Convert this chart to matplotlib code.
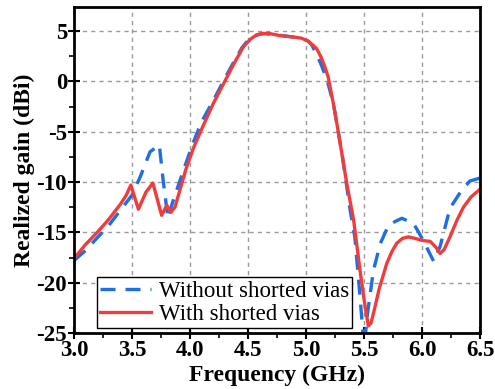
import matplotlib
matplotlib.use('Agg')
import matplotlib.pyplot as plt
from matplotlib.ticker import MultipleLocator, FormatStrFormatter

# Without shorted vias (dashed blue)
f_wo = [3.0, 3.1, 3.195, 3.3, 3.4, 3.5, 3.57, 3.655, 3.735, 3.77, 3.81, 3.85, 3.9, 3.95,
        4.03, 4.1, 4.2, 4.3, 4.38, 4.45, 4.5, 4.55, 4.6, 4.65, 4.72, 4.8, 4.9, 4.96, 5.02,
        5.05, 5.08, 5.12, 5.18, 5.235, 5.31, 5.38, 5.42, 5.465, 5.5, 5.53, 5.58, 5.64,
        5.71, 5.77, 5.825, 5.925, 6.01, 6.1, 6.155, 6.24, 6.33, 6.41, 6.5]
g_wo = [-17.8, -16.8, -15.6, -14.3, -12.8, -11.3, -9.5, -7.0, -6.3, -10.0, -13.6, -12.0, -10.3, -8.6,
        -6.0, -4.0, -1.9, 0.3, 2.0, 3.4, 4.1, 4.5, 4.7, 4.75, 4.65, 4.55, 4.4, 4.3, 4.0,
        3.6, 2.9, 1.95, 0.2, -2.2, -7.2, -12.8, -15.45, -21.4, -26.5, -23.0, -18.8, -16.1,
        -14.3, -13.9, -13.6, -14.1, -15.8, -17.9, -16.4, -12.6, -11.0, -9.9, -9.6]

# With shorted vias (solid red)
f_w = [3.0, 3.1, 3.2, 3.3, 3.4, 3.45, 3.49, 3.555, 3.62, 3.68, 3.755, 3.80, 3.835, 3.87,
       3.92, 3.965, 4.03, 4.115, 4.2, 4.29, 4.38, 4.46, 4.52, 4.57, 4.62, 4.69, 4.78, 4.9,
       4.96, 5.02, 5.06, 5.09, 5.13, 5.16, 5.19, 5.24, 5.28, 5.32, 5.35, 5.41, 5.465, 5.51,
       5.537, 5.56, 5.59, 5.63, 5.695, 5.74, 5.78, 5.83, 5.88, 5.94, 6.0, 6.07, 6.12, 6.155,
       6.19, 6.24, 6.3, 6.356, 6.42, 6.5]
g_w = [-17.6, -16.2, -15.0, -13.7, -12.2, -11.3, -10.3, -12.7, -11.0, -10.1, -13.3, -12.3, -13.0, -12.5,
       -10.5, -8.7, -6.6, -4.35, -2.2, -0.2, 1.8, 3.45, 4.2, 4.6, 4.78, 4.75, 4.55, 4.4,
       4.3, 4.0, 3.6, 3.28, 2.4, 1.5, 0.46, -2.5, -5.2, -8.0, -10.1, -13.8, -18.8, -22.5,
       -24.3, -24.0, -22.6, -20.6, -18.1, -16.9, -16.1, -15.6, -15.45, -15.6, -15.8, -15.9, -16.5, -17.1,
       -16.7, -15.45, -13.8, -12.5, -11.5, -10.7]

plt.rcParams['font.family'] = 'Liberation Serif'
plt.rcParams['font.weight'] = 'bold'
plt.rcParams['axes.unicode_minus'] = False

fig = plt.figure(figsize=(4.95, 3.89), dpi=100)
ax = fig.add_axes([0.1495, 0.144, 0.8205, 0.838])

ax.grid(True, which='major', linestyle=(0, (3, 3)), color='#999999', linewidth=1.0)
ax.plot(f_wo, g_wo, color='#1E6EE6', linewidth=2.4, linestyle=(0, (4.5, 3)),
        label='Without shorted vias')
ax.plot(f_w, g_w, color='#F03C3C', linewidth=2.4, label='With shorted vias')

ax.set_xlim(3.0, 6.5)
ax.set_ylim(-25, 7.4)
ax.xaxis.set_major_locator(MultipleLocator(0.5))
ax.xaxis.set_minor_locator(MultipleLocator(0.25))
ax.yaxis.set_major_locator(MultipleLocator(5))
ax.yaxis.set_minor_locator(MultipleLocator(2.5))
ax.xaxis.set_major_formatter(FormatStrFormatter('%.1f'))
ax.tick_params(which='major', direction='inout', length=8, width=1.5, labelsize=16.5, pad=1)
ax.tick_params(which='minor', direction='out', length=3.5, width=1.2)
for s in ax.spines.values():
    s.set_linewidth(2.0)

ax.set_xlabel('Frequency (GHz)', fontsize=17, fontweight='bold', labelpad=3)
ax.set_ylabel('Realized gain (dBi)', fontsize=17, fontweight='bold', labelpad=1)

leg = ax.legend(loc='lower left', bbox_to_anchor=(0.045, 0.0), fancybox=False,
                edgecolor='black', framealpha=1, handlelength=2.2,
                prop={'family': 'Liberation Serif', 'size': 16.5, 'weight': 'normal'},
                borderpad=0.15, labelspacing=0.1, handletextpad=0.35, borderaxespad=0.2)
leg.get_frame().set_linewidth(1.0)

fig.savefig('out.png', dpi=100)
